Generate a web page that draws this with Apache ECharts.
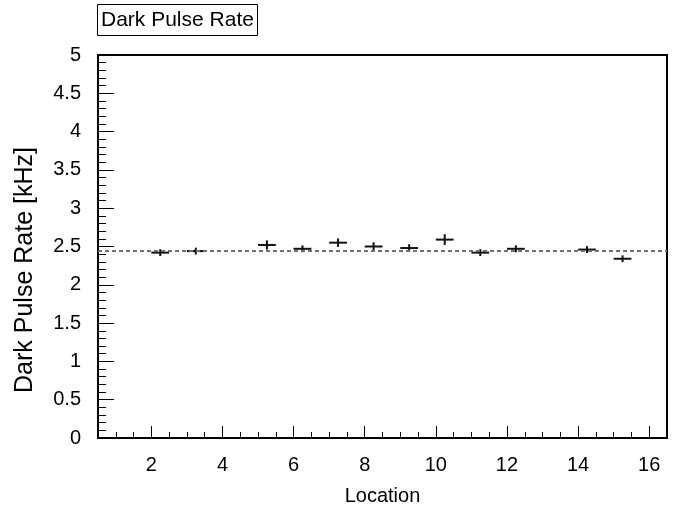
<!DOCTYPE html>
<html>
<head>
<meta charset="utf-8">
<script src="https://cdn.jsdelivr.net/npm/echarts@6/dist/echarts.min.js"></script>
<style>html,body{margin:0;padding:0;background:#fff}#c{width:674px;height:511px}</style>
</head>
<body>
<div id="c"></div>
<script>
// Data
const locations = [2.25, 3.25, 5.25, 6.25, 7.25, 8.25, 9.25, 10.25, 11.25, 12.25, 14.25, 15.25];
const rates     = [2.42, 2.44, 2.52, 2.47, 2.55, 2.50, 2.48, 2.59, 2.42, 2.47, 2.46, 2.34];
const rateErrs  = [0.045, 0.045, 0.06, 0.045, 0.055, 0.055, 0.05, 0.07, 0.045, 0.045, 0.045, 0.045];
const xHalfWidth = 0.25;
const meanRate = 2.45;
const xMajorTicks = [2, 4, 6, 8, 10, 12, 14, 16];
const title = 'Dark Pulse Rate';
const xName = 'Location';
const yName = 'Dark Pulse Rate [kHz]';

const FONT = '"Liberation Sans", Arial, Helvetica, sans-serif';
const chart = echarts.init(document.getElementById('c'), null, {renderer: 'canvas'});
const data = locations.map((x, i) => [x, rates[i], rateErrs[i]]);

chart.setOption({
  animation: false,
  backgroundColor: '#fff',
  textStyle: {fontFamily: FONT, color: '#000'},
  title: {
    text: title, left: 97, top: 4,
    borderWidth: 1, borderColor: '#000',
    padding: [5, 4, 5, 4],
    textStyle: {fontFamily: FONT, fontSize: 21, fontWeight: 'normal', color: '#000', lineHeight: 22}
  },
  grid: {left: 98, right: 7, top: 55, bottom: 70, show: true, borderColor: '#000', borderWidth: 2, backgroundColor: 'transparent'},
  xAxis: [
    {
      type: 'value', min: 0.5, max: 16.5, interval: 0.5,
      axisLine: {show: true, lineStyle: {color: '#000', width: 2}},
      axisTick: {show: true, inside: true, length: 6, lineStyle: {color: '#000', width: 1}},
      axisLabel: {show: false},
      splitLine: {show: false},
      name: xName, nameLocation: 'middle', nameGap: 48,
      nameTextStyle: {fontFamily: FONT, fontSize: 20, color: '#000'}
    },
    {
      type: 'value', min: 0.5, max: 16.5, position: 'bottom',
      axisLine: {show: false},
      axisTick: {show: true, inside: true, length: 12, customValues: xMajorTicks, lineStyle: {color: '#000', width: 1}},
      axisLabel: {show: true, customValues: xMajorTicks, margin: 17, fontFamily: FONT, fontSize: 20, color: '#000'},
      splitLine: {show: false}
    }
  ],
  yAxis: {
    type: 'value', min: 0, max: 5, interval: 0.5,
    axisLine: {show: true, lineStyle: {color: '#000', width: 2}},
    axisTick: {show: true, inside: true, length: 16, lineStyle: {color: '#000', width: 1}},
    minorTick: {show: true, splitNumber: 5, length: 8, lineStyle: {color: '#000', width: 1}},
    axisLabel: {margin: 17, fontFamily: FONT, fontSize: 20, color: '#000'},
    splitLine: {show: false}
  },
  graphic: [{
    type: 'text', x: 25, y: 270, rotation: Math.PI / 2,
    style: {text: yName, fontFamily: FONT, fontSize: 25, fill: '#000', align: 'center', verticalAlign: 'middle'}
  }],
  series: [{
    type: 'custom',
    xAxisIndex: 0,
    data: data,
    renderItem: function (params, api) {
      const x = api.value(0), y = api.value(1), e = api.value(2);
      const l = api.coord([x - xHalfWidth, y]);
      const r = api.coord([x + xHalfWidth, y]);
      const t = api.coord([x, y + e]);
      const b = api.coord([x, y - e]);
      const st = {stroke: '#111', lineWidth: 2};
      return {
        type: 'group',
        children: [
          {type: 'line', shape: {x1: l[0], y1: l[1], x2: r[0], y2: r[1]}, style: st},
          {type: 'line', shape: {x1: t[0], y1: t[1], x2: b[0], y2: b[1]}, style: st}
        ]
      };
    },
    markLine: {
      silent: true, symbol: 'none', label: {show: false},
      lineStyle: {type: [4, 3], color: '#707070', width: 2},
      data: [{yAxis: meanRate}]
    },
    z: 3
  }]
});
</script>
</body>
</html>
